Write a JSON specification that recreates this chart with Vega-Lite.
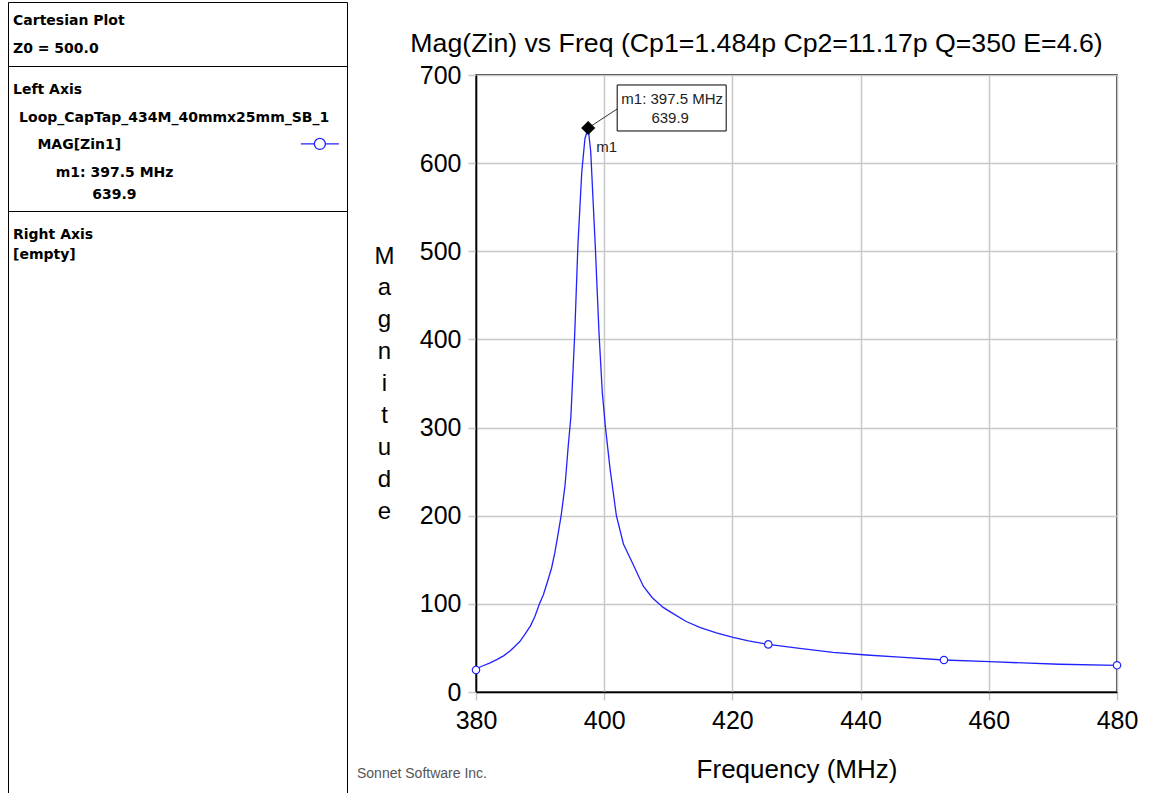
{
  "$schema": "https://vega.github.io/schema/vega-lite/v6.json",
  "background": "white",
  "padding": {"left": 7, "top": 1, "right": 0, "bottom": 0},
  "spacing": 8,
  "config": {"font": "Liberation Sans"},
  "datasets": {
    "curve": [
      {"freq": 380.0, "mag": 25}, {"freq": 380.4, "mag": 27.5}, {"freq": 381.0, "mag": 29.5},
      {"freq": 382.2, "mag": 33}, {"freq": 383.3, "mag": 37}, {"freq": 384.3, "mag": 41},
      {"freq": 385.3, "mag": 46.5}, {"freq": 385.8, "mag": 50}, {"freq": 386.8, "mag": 57},
      {"freq": 387.6, "mag": 65}, {"freq": 388.5, "mag": 75}, {"freq": 389.2, "mag": 86},
      {"freq": 389.9, "mag": 100}, {"freq": 390.5, "mag": 110}, {"freq": 391.1, "mag": 124},
      {"freq": 391.8, "mag": 141}, {"freq": 392.3, "mag": 158}, {"freq": 392.8, "mag": 179},
      {"freq": 393.3, "mag": 201}, {"freq": 393.9, "mag": 235}, {"freq": 394.4, "mag": 280},
      {"freq": 394.8, "mag": 312}, {"freq": 395.4, "mag": 406}, {"freq": 395.9, "mag": 507},
      {"freq": 396.5, "mag": 590}, {"freq": 397.0, "mag": 628}, {"freq": 397.5, "mag": 639.9},
      {"freq": 397.9, "mag": 613}, {"freq": 398.6, "mag": 507}, {"freq": 399.2, "mag": 406},
      {"freq": 399.7, "mag": 340}, {"freq": 400.2, "mag": 300}, {"freq": 400.9, "mag": 254},
      {"freq": 401.9, "mag": 200}, {"freq": 403.0, "mag": 168}, {"freq": 404.5, "mag": 145},
      {"freq": 406.1, "mag": 120}, {"freq": 407.5, "mag": 107}, {"freq": 409.2, "mag": 96},
      {"freq": 410.5, "mag": 90}, {"freq": 412.8, "mag": 80}, {"freq": 415.0, "mag": 73},
      {"freq": 417.5, "mag": 67}, {"freq": 420.1, "mag": 62}, {"freq": 422.5, "mag": 58},
      {"freq": 425.6, "mag": 54}, {"freq": 430.5, "mag": 49.5}, {"freq": 435.7, "mag": 45},
      {"freq": 440.9, "mag": 42}, {"freq": 446.1, "mag": 39.5}, {"freq": 453.0, "mag": 36.3},
      {"freq": 460.1, "mag": 34.4}, {"freq": 465.3, "mag": 33}, {"freq": 471.0, "mag": 31.5},
      {"freq": 480.0, "mag": 30.3}
    ],
    "symbols": [
      {"freq": 380.0, "mag": 25}, {"freq": 425.6, "mag": 54},
      {"freq": 453.0, "mag": 36.3}, {"freq": 480.0, "mag": 30.3}
    ],
    "marker": [
      {"freq": 397.5, "mag": 639.9, "name": "m1", "label": "m1: 397.5 MHz", "value": "639.9"}
    ],
    "footer": [
      {"freq": 380, "mag": 0, "note": "Sonnet Software Inc."}
    ]
  },
  "hconcat": [
    {
      "spacing": 0,
      "bounds": "flush",
      "vconcat": [
        {
          "width": 339, "height": 64,
          "view": {"stroke": "black", "strokeWidth": 1},
          "data": {"values": [
            {"line": 1, "indent": 0, "text": "Cartesian Plot"},
            {"line": 2, "indent": 0, "text": "Z0 = 500.0"}
          ]},
          "mark": {"type": "text", "align": "left", "baseline": "middle", "font": "DejaVu Sans", "fontWeight": "bold", "fontSize": 14, "color": "black", "clip": true},
          "encoding": {
            "x": {"field": "indent", "type": "quantitative", "scale": {"domain": [-0.82, 54.75], "nice": false, "zero": false}, "axis": null},
            "y": {"field": "line", "type": "quantitative", "scale": {"domain": [0.33, 2.62], "reverse": true, "nice": false, "zero": false}, "axis": null},
            "text": {"field": "text"}
          }
        },
        {
          "width": 339, "height": 145,
          "view": {"stroke": "black", "strokeWidth": 1},
          "encoding": {
            "x": {"field": "indent", "type": "quantitative", "scale": {"domain": [-0.82, 54.75], "nice": false, "zero": false}, "axis": null},
            "y": {"field": "line", "type": "quantitative", "scale": {"domain": [0.1326, 5.373], "reverse": true, "nice": false, "zero": false}, "axis": null}
          },
          "layer": [
            {
              "data": {"values": [
                {"line": 1, "indent": 0, "text": "Left Axis"},
                {"line": 2, "indent": 1, "text": "Loop_CapTap_434M_40mmx25mm_SB_1"},
                {"line": 3, "indent": 4, "text": "MAG[Zin1]"},
                {"line": 4, "indent": 7, "text": "m1: 397.5 MHz"},
                {"line": 4.8, "indent": 13, "text": "639.9"}
              ]},
              "mark": {"type": "text", "align": "left", "baseline": "middle", "font": "DejaVu Sans", "fontWeight": "bold", "fontSize": 14, "color": "black", "clip": true},
              "encoding": {"text": {"field": "text"}}
            },
            {
              "data": {"values": [{"line": 2.95, "indent": 50.3, "series": "MAG[Zin1]"}]},
              "mark": {"type": "point", "shape": "M-2,0H-0.58M0.58,0H2M-0.58,0A0.58,0.58,0,1,1,0.58,0A0.58,0.58,0,1,1,-0.58,0Z", "size": 361, "filled": true, "fill": "white", "stroke": "#2222ff", "strokeWidth": 1.3, "opacity": 1}
            }
          ]
        },
        {
          "width": 339, "height": 600,
          "view": {"stroke": "black", "strokeWidth": 1},
          "data": {"values": [
            {"line": 1, "indent": 0, "text": "Right Axis"},
            {"line": 2, "indent": 0, "text": "[empty]"}
          ]},
          "mark": {"type": "text", "align": "left", "baseline": "middle", "font": "DejaVu Sans", "fontWeight": "bold", "fontSize": 14, "color": "black", "clip": true},
          "encoding": {
            "x": {"field": "indent", "type": "quantitative", "scale": {"domain": [-0.82, 54.75], "nice": false, "zero": false}, "axis": null},
            "y": {"field": "line", "type": "quantitative", "scale": {"domain": [-0.2, 29.8], "reverse": true, "nice": false, "zero": false}, "axis": null},
            "text": {"field": "text"}
          }
        }
      ]
    },
    {
      "spacing": 0,
      "vconcat": [
        {
          "width": 641, "height": 60,
          "view": {"stroke": null},
          "data": {"values": [{"title": "Mag(Zin) vs Freq (Cp1=1.484p Cp2=11.17p Q=350 E=4.6)"}]},
          "mark": {"type": "text", "align": "center", "baseline": "middle", "dx": -40, "dy": 12, "fontSize": 26.7, "font": "Liberation Sans", "color": "black"},
          "encoding": {"text": {"field": "title"}}
        },
        {
          "width": 641, "height": 617,
          "view": {"stroke": "black", "strokeWidth": 1.5},
          "encoding": {
            "x": {
              "field": "freq", "type": "quantitative",
              "scale": {"domain": [380, 480], "nice": false, "zero": false},
              "axis": {
                "values": [380, 400, 420, 440, 460, 480],
                "title": "Frequency (MHz)",
                "domainColor": "black", "domainWidth": 1.5,
                "gridColor": "#c8c8c8", "gridWidth": 1.5,
                "tickColor": "#c8c8c8", "tickWidth": 1.5, "tickSize": 8,
                "labelFont": "Liberation Sans", "labelFontSize": 25, "labelColor": "black", "labelPadding": 8,
                "labelFlush": false, "labelOverlap": false, "labelBound": false,
                "titleFont": "Liberation Sans", "titleFontSize": 26, "titleFontWeight": "normal", "titleColor": "black",
                "titleBaseline": "alphabetic", "titleY": 85
              }
            },
            "y": {
              "field": "mag", "type": "quantitative",
              "scale": {"domain": [0, 700], "nice": false},
              "axis": {
                "values": [0, 100, 200, 300, 400, 500, 600, 700],
                "title": ["M", "a", "g", "n", "i", "t", "u", "d", "e"],
                "domainColor": "black", "domainWidth": 1.5,
                "gridColor": "#c8c8c8", "gridWidth": 1.5,
                "tickColor": "#c8c8c8", "tickWidth": 1.5, "tickSize": 8,
                "labelFont": "Liberation Sans", "labelFontSize": 25, "labelColor": "black", "labelPadding": 7,
                "labelOverlap": false, "labelBound": false, "labelFlush": false,
                "titleFont": "Liberation Sans", "titleFontSize": 24, "titleFontWeight": "normal", "titleColor": "black",
                "titleAngle": 0, "titleX": -92, "titleY": 181, "titleAlign": "center", "titleBaseline": "middle", "titleLineHeight": 31.9
              }
            }
          },
          "layer": [
            {
              "data": {"name": "curve"},
              "mark": {"type": "line", "color": "#2222ff", "strokeWidth": 1.3}
            },
            {
              "data": {"name": "symbols"},
              "mark": {"type": "point", "filled": true, "fill": "white", "stroke": "#2222ff", "strokeWidth": 1.2, "size": 55, "opacity": 1}
            },
            {
              "data": {"name": "marker"},
              "mark": {"type": "rule", "color": "#333333", "strokeWidth": 1, "x2Offset": 29, "y2Offset": -19},
              "encoding": {"x2": {"field": "freq"}, "y2": {"field": "mag"}}
            },
            {
              "data": {"name": "marker"},
              "mark": {"type": "rect", "fill": "white", "stroke": "black", "strokeWidth": 1, "xOffset": 29, "x2Offset": 138, "yOffset": -43, "y2Offset": 3},
              "encoding": {"x2": {"field": "freq"}, "y2": {"field": "mag"}}
            },
            {
              "data": {"name": "marker"},
              "mark": {"type": "point", "shape": "diamond", "filled": true, "color": "black", "size": 200, "opacity": 1}
            },
            {
              "data": {"name": "marker"},
              "mark": {"type": "text", "align": "left", "baseline": "middle", "dx": 8, "dy": 19, "fontSize": 15, "font": "Liberation Sans", "color": "#222222"},
              "encoding": {"text": {"field": "name"}}
            },
            {
              "data": {"name": "marker"},
              "mark": {"type": "text", "align": "center", "baseline": "middle", "dx": 84, "dy": -29, "fontSize": 15, "font": "Liberation Sans", "color": "#222222"},
              "encoding": {"text": {"field": "label"}}
            },
            {
              "data": {"name": "marker"},
              "mark": {"type": "text", "align": "center", "baseline": "middle", "dx": 82, "dy": -10, "fontSize": 15, "font": "Liberation Sans", "color": "#222222"},
              "encoding": {"text": {"field": "value"}}
            },
            {
              "data": {"name": "footer"},
              "mark": {"type": "text", "align": "left", "baseline": "middle", "dx": -119, "dy": 82, "fontSize": 14, "font": "Liberation Sans", "color": "#555555"},
              "encoding": {"text": {"field": "note"}}
            }
          ]
        }
      ]
    }
  ]
}
